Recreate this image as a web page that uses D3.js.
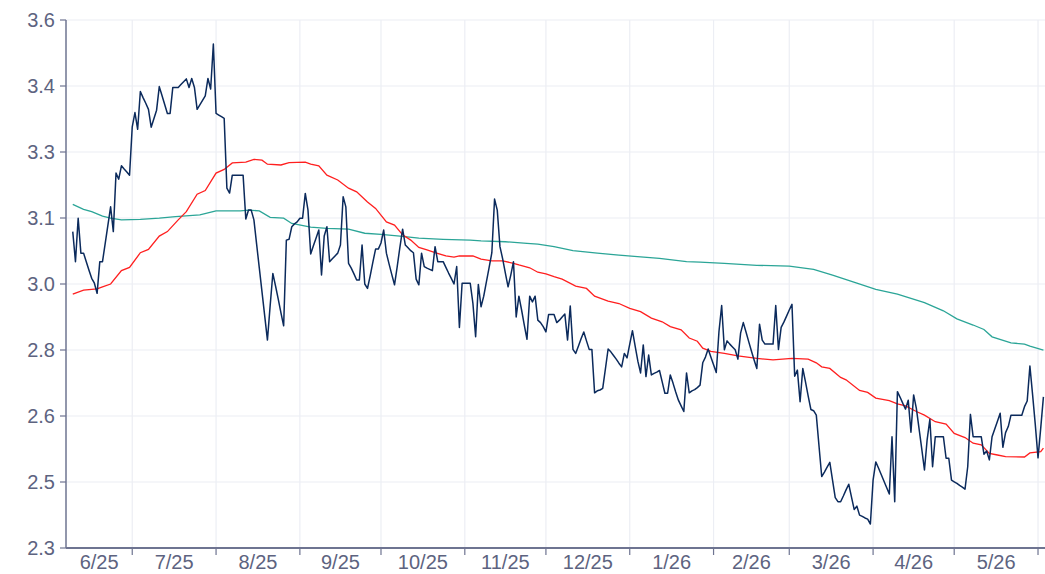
<!DOCTYPE html>
<html>
<head>
<meta charset="utf-8">
<script src="https://cdn.jsdelivr.net/npm/d3@7"></script>
<style>
  body { margin: 0; background: #fff; }
  svg { display: block; font-family: "Liberation Sans", Arial, sans-serif; }
</style>
</head>
<body>
<svg id="chart" width="1045" height="574"></svg>
<script>
// daily closes, one per calendar day starting 2025-06-09
var priceStart = new Date(2025, 5, 9);
var priceVals = [
  3.079, 3.005, 3.112, 3.026, 3.026, 3.005, 2.984, 2.964, 2.952, 2.927,
  3.005, 3.005, 3.050, 3.095, 3.140, 3.079, 3.223, 3.208, 3.241, 3.233,
  3.226, 3.218, 3.337, 3.372, 3.331, 3.424, 3.409, 3.395, 3.380, 3.336,
  3.357, 3.378, 3.436, 3.414, 3.392, 3.370, 3.370, 3.434, 3.434, 3.434,
  3.441, 3.448, 3.455, 3.434, 3.456, 3.434, 3.380, 3.391, 3.402, 3.413,
  3.456, 3.430, 3.541, 3.370, 3.366, 3.362, 3.358, 3.186, 3.174, 3.218,
  3.218, 3.218, 3.218, 3.218, 3.110, 3.132, 3.132, 3.108, 3.048, 2.989,
  2.930, 2.871, 2.812, 2.896, 2.976, 2.945, 2.913, 2.879, 2.847, 3.058,
  3.060, 3.091, 3.098, 3.103, 3.112, 3.112, 3.173, 3.132, 3.024, 3.044,
  3.063, 3.083, 2.972, 3.068, 3.091, 3.005, 3.012, 3.019, 3.026, 3.046,
  3.165, 3.140, 3.001, 2.989, 2.975, 2.960, 2.960, 3.046, 2.950, 2.939,
  2.970, 3.004, 3.036, 3.036, 3.051, 3.083, 3.026, 2.999, 2.973, 2.948,
  2.993, 3.041, 3.085, 3.046, 3.039, 3.032, 3.027, 2.962, 2.948, 3.026,
  2.993, 2.989, 2.986, 2.983, 3.042, 3.005, 3.005, 3.005, 2.991, 2.977,
  2.964, 2.950, 2.993, 2.843, 2.952, 2.952, 2.952, 2.952, 2.902, 2.820,
  2.949, 2.894, 2.920, 2.956, 2.991, 3.027, 3.159, 3.132, 3.042, 3.012,
  2.977, 2.943, 2.972, 3.005, 2.869, 2.920, 2.886, 2.849, 2.814, 2.920,
  2.906, 2.920, 2.861, 2.855, 2.845, 2.832, 2.875, 2.875, 2.875, 2.855,
  2.861, 2.869, 2.876, 2.812, 2.896, 2.789, 2.779, 2.797, 2.815, 2.832,
  2.810, 2.789, 2.789, 2.682, 2.687, 2.689, 2.693, 2.741, 2.790, 2.783,
  2.774, 2.765, 2.755, 2.746, 2.779, 2.768, 2.802, 2.835, 2.797, 2.760,
  2.731, 2.800, 2.722, 2.775, 2.726, 2.730, 2.733, 2.737, 2.709, 2.681,
  2.681, 2.726, 2.706, 2.684, 2.664, 2.650, 2.636, 2.731, 2.682, 2.687,
  2.690, 2.695, 2.701, 2.756, 2.770, 2.790, 2.770, 2.751, 2.732, 2.833,
  2.897, 2.788, 2.810, 2.802, 2.795, 2.788, 2.765, 2.829, 2.855, 2.832,
  2.808, 2.785, 2.763, 2.742, 2.851, 2.812, 2.802, 2.802, 2.802, 2.802,
  2.897, 2.789, 2.843, 2.856, 2.871, 2.886, 2.900, 2.723, 2.738, 2.660,
  2.742, 2.709, 2.674, 2.641, 2.638, 2.627, 2.551, 2.476, 2.487, 2.499,
  2.511, 2.467, 2.424, 2.414, 2.414, 2.428, 2.443, 2.457, 2.426, 2.395,
  2.403, 2.381, 2.378, 2.374, 2.371, 2.359, 2.467, 2.512, 2.497, 2.481,
  2.465, 2.449, 2.433, 2.574, 2.414, 2.685, 2.671, 2.656, 2.642, 2.664,
  2.585, 2.677, 2.644, 2.594, 2.544, 2.492, 2.567, 2.617, 2.500, 2.574,
  2.574, 2.574, 2.574, 2.521, 2.521, 2.467, 2.463, 2.459, 2.454, 2.450,
  2.445, 2.500, 2.629, 2.574, 2.574, 2.574, 2.574, 2.531, 2.539, 2.517,
  2.574, 2.593, 2.612, 2.632, 2.548, 2.584, 2.599, 2.627, 2.627, 2.627,
  2.627, 2.627, 2.648, 2.662, 2.748, 2.677, 2.603, 2.522, 2.595, 2.672
];

// short moving average (red), read at day offsets from priceStart
var shortDays = [0, 4, 9, 11, 14, 18, 21, 25, 28, 32, 35, 39, 42, 46, 49, 53, 56, 59, 64, 67,
  70, 72, 77, 80, 86, 88, 91, 94, 98, 102, 105, 109, 112, 116, 119, 122, 125, 128, 131, 134,
  138, 141, 143, 148, 151, 155, 159, 163, 165, 169, 172, 175, 178, 181, 186, 190, 193, 198, 202, 206,
  210, 214, 218, 221, 225, 228, 231, 233, 236, 241, 246, 253, 259, 266, 272, 275, 277, 280, 284, 286,
  291, 294, 297, 302, 305, 308, 312, 315, 319, 323, 326, 330, 333, 336, 339, 342, 345, 352, 354, 358, 359];
var shortVals = [2.925, 2.935, 2.938, 2.943, 2.950, 2.983, 2.991, 3.027, 3.035, 3.068, 3.079, 3.108, 3.128, 3.171, 3.180, 3.223, 3.232, 3.248, 3.250, 3.257,
  3.255, 3.245, 3.243, 3.249, 3.250, 3.245, 3.241, 3.218, 3.206, 3.186, 3.177, 3.152, 3.136, 3.103, 3.095, 3.071, 3.058, 3.040, 3.034, 3.027,
  3.019, 3.016, 3.019, 3.019, 3.011, 3.007, 3.007, 3.001, 2.997, 2.990, 2.979, 2.975, 2.968, 2.962, 2.945, 2.939, 2.920, 2.908, 2.902, 2.890,
  2.882, 2.866, 2.857, 2.845, 2.837, 2.817, 2.809, 2.792, 2.784, 2.779, 2.773, 2.767, 2.763, 2.767, 2.765, 2.756, 2.746, 2.742, 2.720, 2.714,
  2.688, 2.683, 2.669, 2.663, 2.655, 2.650, 2.636, 2.627, 2.611, 2.605, 2.582, 2.572, 2.558, 2.554, 2.533, 2.529, 2.525, 2.524, 2.534, 2.537, 2.546];

// long moving average (teal)
var longDays = [0, 4, 7, 11, 14, 18, 25, 32, 38, 47, 53, 62, 65, 69, 73, 78, 81, 88, 94, 102,
  108, 114, 121, 128, 137, 147, 151, 160, 168, 172, 178, 185, 194, 202, 210, 217, 227, 232, 241, 253,
  265, 274, 281, 290, 297, 305, 315, 322, 327, 333, 337, 340, 347, 352, 354, 359];
var longVals = [3.146, 3.134, 3.128, 3.117, 3.112, 3.108, 3.109, 3.112, 3.116, 3.120, 3.130, 3.130, 3.132, 3.130, 3.114, 3.112, 3.099, 3.090, 3.087, 3.085,
  3.075, 3.072, 3.068, 3.063, 3.060, 3.058, 3.056, 3.054, 3.050, 3.048, 3.042, 3.032, 3.026, 3.021, 3.017, 3.013, 3.005, 3.004, 3.001, 2.996,
  2.994, 2.986, 2.972, 2.952, 2.937, 2.925, 2.904, 2.884, 2.864, 2.849, 2.838, 2.820, 2.805, 2.802, 2.797, 2.787];

var yTicks = [2.3, 2.4625, 2.625, 2.7875, 2.95, 3.1125, 3.275, 3.4375, 3.6];
var yTickLabels = ["2.3", "2.5", "2.6", "2.8", "3.0", "3.1", "3.3", "3.4", "3.6"];
var monthLabels = ["6/25", "7/25", "8/25", "9/25", "10/25", "11/25", "12/25", "1/26", "2/26", "3/26", "4/26", "5/26"];

(function(){
  var plotLeft = 66, plotRight = 1045, plotTop = 20, plotBottom = 548;
  var axisColor = "#6e7491", textColor = "#5d6380", gridColor = "#eceef4";

  var svg = d3.select("#chart");

  var xStart = new Date(2025, 5, 6, 12), xEnd = new Date(2026, 5, 3, 14);
  var x = d3.scaleTime().domain([xStart, xEnd]).range([plotLeft, plotRight]);
  var y = d3.scaleLinear().domain([2.3, 3.6]).range([plotBottom, plotTop]);

  var dayOf = function(i){ return d3.timeDay.offset(priceStart, i); };
  var price = priceVals.map(function(v, i){ return { date: dayOf(i), value: v }; });
  var shortMa = shortDays.map(function(d, i){ return { date: dayOf(d), value: shortVals[i] }; });
  var longMa = longDays.map(function(d, i){ return { date: dayOf(d), value: longVals[i] }; });

  var monthStarts = d3.timeMonth.range(d3.timeMonth.ceil(xStart), xEnd);

  // grid
  svg.append("g")
    .selectAll("line")
    .data(yTicks)
    .enter().append("line")
    .attr("x1", plotLeft).attr("x2", plotRight)
    .attr("y1", function(d){ return y(d); })
    .attr("y2", function(d){ return y(d); })
    .attr("stroke", gridColor).attr("stroke-width", 1.2);

  svg.append("g")
    .selectAll("line")
    .data(monthStarts)
    .enter().append("line")
    .attr("x1", function(d){ return x(d); })
    .attr("x2", function(d){ return x(d); })
    .attr("y1", plotTop).attr("y2", plotBottom)
    .attr("stroke", gridColor).attr("stroke-width", 1.2);

  // lines
  var line = d3.line()
    .x(function(d){ return x(d.date); })
    .y(function(d){ return y(d.value); });

  svg.append("path").datum(longMa)
    .attr("fill", "none").attr("stroke", "#2ba597").attr("stroke-width", 1.3)
    .attr("d", line);

  svg.append("path").datum(shortMa)
    .attr("fill", "none").attr("stroke", "#ff1f1f").attr("stroke-width", 1.3)
    .attr("d", line);

  svg.append("path").datum(price)
    .attr("fill", "none").attr("stroke", "#0b2a5c").attr("stroke-width", 1.5)
    .attr("stroke-linejoin", "round")
    .attr("d", line);

  // y axis
  var yAxis = svg.append("g");
  yAxis.append("line")
    .attr("x1", plotLeft).attr("x2", plotLeft).attr("y1", plotTop).attr("y2", plotBottom)
    .attr("stroke", axisColor).attr("stroke-width", 1.5);
  yAxis.selectAll("line.tick")
    .data(yTicks)
    .enter().append("line")
    .attr("class", "tick")
    .attr("x1", plotLeft - 6).attr("x2", plotLeft)
    .attr("y1", function(d){ return y(d); })
    .attr("y2", function(d){ return y(d); })
    .attr("stroke", axisColor).attr("stroke-width", 1.2);
  yAxis.selectAll("text")
    .data(yTicks)
    .enter().append("text")
    .attr("x", plotLeft - 11)
    .attr("y", function(d){ return y(d); })
    .attr("dy", "0.36em")
    .attr("text-anchor", "end")
    .attr("fill", textColor)
    .style("font-size", "20px")
    .text(function(d, i){ return yTickLabels[i]; });

  // x axis
  var xAxis = svg.append("g");
  xAxis.append("line")
    .attr("x1", plotLeft).attr("x2", plotRight).attr("y1", plotBottom).attr("y2", plotBottom)
    .attr("stroke", axisColor).attr("stroke-width", 2);
  xAxis.selectAll("line.tick")
    .data(monthStarts)
    .enter().append("line")
    .attr("class", "tick")
    .attr("x1", function(d){ return x(d); })
    .attr("x2", function(d){ return x(d); })
    .attr("y1", plotBottom).attr("y2", plotBottom + 7)
    .attr("stroke", axisColor).attr("stroke-width", 1.2);

  var bands = [xStart].concat(monthStarts).concat([xEnd]);
  var bandData = monthLabels.map(function(label, i){
    return { label: label, mid: (x(bands[i]) + x(bands[i + 1])) / 2 };
  });
  xAxis.selectAll("text")
    .data(bandData)
    .enter().append("text")
    .attr("x", function(d){ return d.mid; })
    .attr("y", 569)
    .attr("text-anchor", "middle")
    .attr("fill", textColor)
    .style("font-size", "20px")
    .text(function(d){ return d.label; });
})();
</script>
</body>
</html>
